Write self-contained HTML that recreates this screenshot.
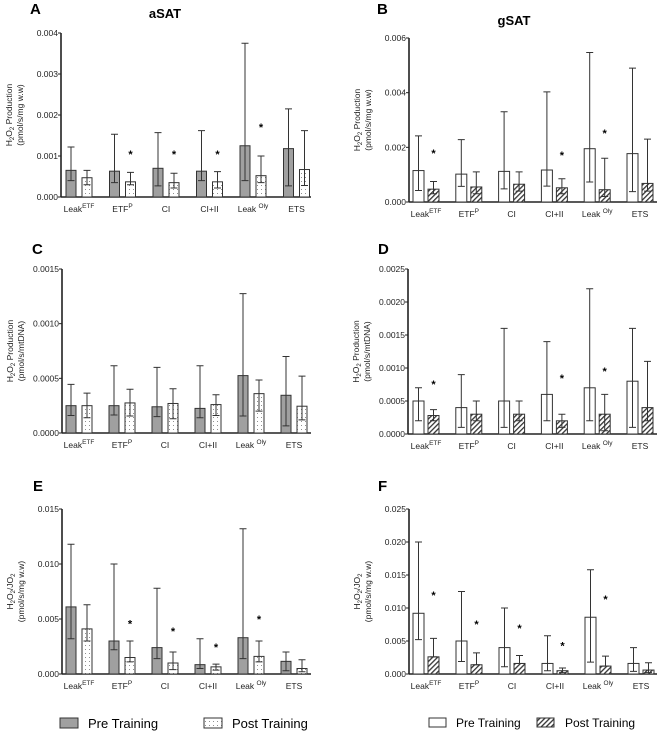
<!DOCTYPE html>
<html><head><meta charset="utf-8">
<style>
html,body{margin:0;padding:0;background:#fff;}
svg{display:block;font-family:"Liberation Sans",Arial,sans-serif;}
</style></head>
<body>
<svg id="fig" width="659" height="732" viewBox="0 0 659 732">
<defs>
<pattern id="dots" width="4" height="4" patternUnits="userSpaceOnUse"><rect width="4" height="4" fill="#fff"/><rect x="1" y="1" width="0.9" height="0.9" fill="#777"/></pattern>
<pattern id="hatch" width="3.5" height="3.5" patternUnits="userSpaceOnUse" patternTransform="rotate(45)"><rect width="3.5" height="3.5" fill="#fff"/><rect width="1.3" height="3.5" fill="#333"/></pattern>
</defs>
<text x="30" y="14" font-size="15" font-weight="bold">A</text>
<text x="165" y="18" font-size="13" font-weight="bold" text-anchor="middle">aSAT</text>
<text x="377" y="14" font-size="15" font-weight="bold">B</text>
<text x="514" y="25" font-size="13" font-weight="bold" text-anchor="middle">gSAT</text>
<text x="32" y="254" font-size="15" font-weight="bold">C</text>
<text x="378" y="254" font-size="15" font-weight="bold">D</text>
<text x="33" y="491" font-size="15" font-weight="bold">E</text>
<text x="378" y="491" font-size="15" font-weight="bold">F</text>

<g>
<rect x="60" y="718" width="18" height="10" fill="#a0a0a0" stroke="#333"/>
<text x="88" y="728" font-size="13">Pre Training</text>
<rect x="204" y="718" width="18" height="10" fill="url(#dots)" stroke="#333"/>
<text x="232" y="728" font-size="13">Post Training</text>
</g>
<g>
<rect x="429" y="718" width="17" height="9" fill="#fff" stroke="#333"/>
<text x="456" y="727" font-size="12">Pre Training</text>
<rect x="537" y="718" width="17" height="9" fill="url(#hatch)" stroke="#333"/>
<text x="565" y="727" font-size="12">Post Training</text>
</g>
</svg>
<script>
const categories = ["Leak|ETF","ETF|P","CI","CI+II","Leak |Oly","ETS"];

const aPre = [0.00065,0.00063,0.00070,0.00063,0.00125,0.00118];
const aPreLo = [0.00040,0.00035,0.00027,0.00040,0.00040,0.00027];
const aPreHi = [0.00122,0.00153,0.00157,0.00162,0.00375,0.00215];
const aPost = [0.00047,0.00037,0.00035,0.00037,0.00052,0.00067];
const aPostLo = [0.00030,0.00030,0.00022,0.00022,0.00035,0.00028];
const aPostHi = [0.00065,0.00060,0.00058,0.00062,0.00100,0.00162];
const aStar = [null,0.00107,0.00107,0.00107,0.00173,null];
const aTicks = ["0.000","0.001","0.002","0.003","0.004"];

const bPre = [0.00115,0.00102,0.00112,0.00117,0.00195,0.00177];
const bPreLo = [0.00042,0.00057,0.00048,0.00058,0.00073,0.00038];
const bPreHi = [0.00242,0.00228,0.00330,0.00403,0.00547,0.00490];
const bPost = [0.00047,0.00055,0.00065,0.00052,0.00045,0.00068];
const bPostLo = [0.00030,0.00030,0.00040,0.00030,0.00020,0.00040];
const bPostHi = [0.00075,0.00110,0.00110,0.00085,0.00160,0.00230];
const bStar = [0.00183,null,null,0.00176,0.00256,null];
const bTicks = ["0.000","0.002","0.004","0.006"];

const cPre = [0.00025,0.00025,0.00024,0.000225,0.000525,0.000345];
const cPreLo = [0.00016,0.000165,0.00015,0.00014,0.000155,0.000065];
const cPreHi = [0.000445,0.000615,0.00060,0.000615,0.001275,0.00070];
const cPost = [0.00025,0.000275,0.00027,0.00026,0.00036,0.000245];
const cPostLo = [0.00014,0.000155,0.00013,0.00016,0.00020,0.00012];
const cPostHi = [0.000365,0.00040,0.000405,0.00035,0.000485,0.00052];
const cStar = [null,null,null,null,null,null];
const cTicks = ["0.0000","0.0005","0.0010","0.0015"];

const dPre = [0.0005,0.0004,0.0005,0.0006,0.0007,0.0008];
const dPreLo = [0.0002,0.0001,0.0001,0.0002,0.0002,0.0001];
const dPreHi = [0.0007,0.0009,0.0016,0.0014,0.0022,0.0016];
const dPost = [0.00028,0.0003,0.0003,0.0002,0.0003,0.0004];
const dPostLo = [0.0002,0.0002,0.0002,0.0001,0.00005,0.0002];
const dPostHi = [0.00037,0.0005,0.0005,0.0003,0.0006,0.0011];
const dStar = [0.00077,null,null,0.00086,0.00097,null];
const dTicks = ["0.0000","0.0005","0.0010","0.0015","0.0020","0.0025"];

const ePre = [0.0061,0.0030,0.0024,0.00085,0.0033,0.00115];
const ePreLo = [0.0032,0.0022,0.0014,0.0005,0.0014,0.0003];
const ePreHi = [0.0118,0.0100,0.0078,0.0032,0.0132,0.0020];
const ePost = [0.0041,0.0015,0.0010,0.00065,0.0016,0.0005];
const ePostLo = [0.0030,0.0011,0.0004,0.00035,0.0011,0.0002];
const ePostHi = [0.0063,0.0030,0.0020,0.0009,0.0030,0.0013];
const eStar = [null,0.0047,0.0040,0.00255,0.0051,null];
const eTicks = ["0.000","0.005","0.010","0.015"];

const fPre = [0.0092,0.0050,0.0040,0.0016,0.0086,0.0016];
const fPreLo = [0.0052,0.0019,0.0011,0.0005,0.0018,0.0004];
const fPreHi = [0.0200,0.0125,0.0100,0.0058,0.0158,0.0040];
const fPost = [0.0026,0.0014,0.0016,0.0005,0.0012,0.0006];
const fPostLo = [0.0026,0.0014,0.0016,0.0002,0.0012,0.0002];
const fPostHi = [0.0054,0.0032,0.0028,0.0009,0.0027,0.0017];
const fStar = [0.0121,0.0077,0.0071,0.0045,0.0115,null];
const fTicks = ["0.000","0.005","0.010","0.015","0.020","0.025"];

const NS = "http://www.w3.org/2000/svg";
const svg = document.getElementById("fig");
function mk(tag, attrs, parent){
  const e = document.createElementNS(NS, tag);
  for (const k in attrs) e.setAttribute(k, attrs[k]);
  (parent||svg).appendChild(e);
  return e;
}

function panel(p){
  const g = mk("g", {});
  
  
  const yMax = parseFloat(p.ticks[p.ticks.length-1]);
  const yS = v => p.y0 - (v / yMax) * (p.y0 - p.yTop);
  const xS = i => p.x0 + 5 + i * p.step;
  const ya = mk("line", {x1:p.ax, y1:p.yTop, x2:p.ax, y2:p.y0, stroke:"#222", "stroke-width":1.6}, g);
  
  
  const xa = mk("line", {x1:p.ax, y1:p.y0, x2:p.xEnd, y2:p.y0, stroke:"#222", "stroke-width":1.6}, g);
  
  
  p.ticks.forEach((t, k) => {
    const v = parseFloat(t);
    const y = yS(v);
    mk("line", {x1:p.ax-3, y1:y, x2:p.ax, y2:y, stroke:"#222", "stroke-width":1}, g);
    const tl = mk("text", {x:p.ax-3, y:y+3, "font-size":8.5, "text-anchor":"end", fill:"#222"}, g);
    tl.textContent = t;
    
    
  });
  const cy = (p.yTop + p.y0) / 2;
  const t1 = mk("text", {x:0, y:0, "font-size":8.5, "text-anchor":"middle", fill:"#222", transform:`translate(${p.ax-49},${cy}) rotate(-90)`}, g);
  t1.innerHTML = p.title1;
  
  
  const t2 = mk("text", {x:0, y:0, "font-size":8.5, "text-anchor":"middle", fill:"#222", transform:`translate(${p.ax-38},${cy}) rotate(-90)`}, g);
  t2.textContent = p.title2;
  
  
  const bw = p.bw;
  categories.forEach((c, i) => {
    const xp = xS(i), xq = xp + p.gap;
    const series = [
      [xp, p.pre[i], p.preLo[i], p.preHi[i], p.preFill, 'bar-pre-'+i],
      [xq, p.post[i], p.postLo[i], p.postHi[i], p.postFill, 'bar-post-'+i]
    ];
    series.forEach(s => {
      const yv = yS(s[1]);
      const r = mk("rect", {x:s[0], y:yv, width:bw, height:p.y0-yv, fill:s[4], stroke:"#333", "stroke-width":1}, g);
      
      
      const cx = s[0] + bw/2;
      const yl = yS(s[2]), yh = yS(s[3]);
      const eb = mk("path", {d:`M${cx},${yl}V${yh}M${cx-3.5},${yh}H${cx+3.5}M${cx-3.5},${yl}H${cx+3.5}`, stroke:"#333", "stroke-width":1, fill:"none"}, g);
      
      
    });
    if (p.star[i] !== null) {
      const st = mk("text", {x:xq+bw/2, y:yS(p.star[i])+5, "font-size":11, "font-weight":"bold", "text-anchor":"middle"}, g);
      st.textContent = "*";
      
      
    }
    const parts = c.split("|");
    const lb = mk("text", {x:xp + (p.gap+bw)/2, y:p.y0+15, "font-size":8.5, "text-anchor":"middle", fill:"#222"}, g);
    lb.textContent = parts[0];
    if (parts[1]) {
      const sp = mk("tspan", {"font-size":6.5, dy:-4}, lb);
      sp.textContent = parts[1];
    }
    
    
  });
}

const h2o2 = 'H<tspan font-size="6" dy="2">2</tspan><tspan dy="-2">O</tspan><tspan font-size="6" dy="2">2</tspan><tspan dy="-2"> Production</tspan>';
const h2o2jo2 = 'H<tspan font-size="6" dy="2">2</tspan><tspan dy="-2">O</tspan><tspan font-size="6" dy="2">2</tspan><tspan dy="-2">/JO</tspan><tspan font-size="6" dy="2">2</tspan>';

panel({name:"panel-a-chart", ax:61, x0:61, xEnd:311, yTop:33, y0:197, step:43.5, gap:16, bw:10, pre:aPre, preLo:aPreLo, preHi:aPreHi, post:aPost, postLo:aPostLo, postHi:aPostHi, star:aStar, ticks:aTicks, preFill:"#a0a0a0", postFill:"url(#dots)", title1:h2o2, title2:"(pmol/s/mg w.w)"});
panel({name:"panel-b-chart", ax:409, x0:408, xEnd:657, yTop:38, y0:202, step:42.8, gap:15, bw:11, pre:bPre, preLo:bPreLo, preHi:bPreHi, post:bPost, postLo:bPostLo, postHi:bPostHi, star:bStar, ticks:bTicks, preFill:"#fff", postFill:"url(#hatch)", title1:h2o2, title2:"(pmol/s/mg w.w)"});
panel({name:"panel-c-chart", ax:62, x0:61, xEnd:311, yTop:269, y0:433, step:43, gap:16, bw:10, pre:cPre, preLo:cPreLo, preHi:cPreHi, post:cPost, postLo:cPostLo, postHi:cPostHi, star:cStar, ticks:cTicks, preFill:"#a0a0a0", postFill:"url(#dots)", title1:h2o2, title2:"(pmol/s/mtDNA)"});
panel({name:"panel-d-chart", ax:408, x0:408, xEnd:657, yTop:269, y0:434, step:42.8, gap:15, bw:11, pre:dPre, preLo:dPreLo, preHi:dPreHi, post:dPost, postLo:dPostLo, postHi:dPostHi, star:dStar, ticks:dTicks, preFill:"#fff", postFill:"url(#hatch)", title1:h2o2, title2:"(pmol/s/mtDNA)"});
panel({name:"panel-e-chart", ax:62, x0:61, xEnd:311, yTop:509, y0:674, step:43, gap:16, bw:10, pre:ePre, preLo:ePreLo, preHi:ePreHi, post:ePost, postLo:ePostLo, postHi:ePostHi, star:eStar, ticks:eTicks, preFill:"#a0a0a0", postFill:"url(#dots)", title1:h2o2jo2, title2:"(pmol/s/mg w.w)"});
panel({name:"panel-f-chart", ax:409, x0:408, xEnd:657, yTop:509, y0:674, step:43, gap:15, bw:11, pre:fPre, preLo:fPreLo, preHi:fPreHi, post:fPost, postLo:fPostLo, postHi:fPostHi, star:fStar, ticks:fTicks, preFill:"#fff", postFill:"url(#hatch)", title1:h2o2jo2, title2:"(pmol/s/mg w.w)"});
</script>
</body></html>
